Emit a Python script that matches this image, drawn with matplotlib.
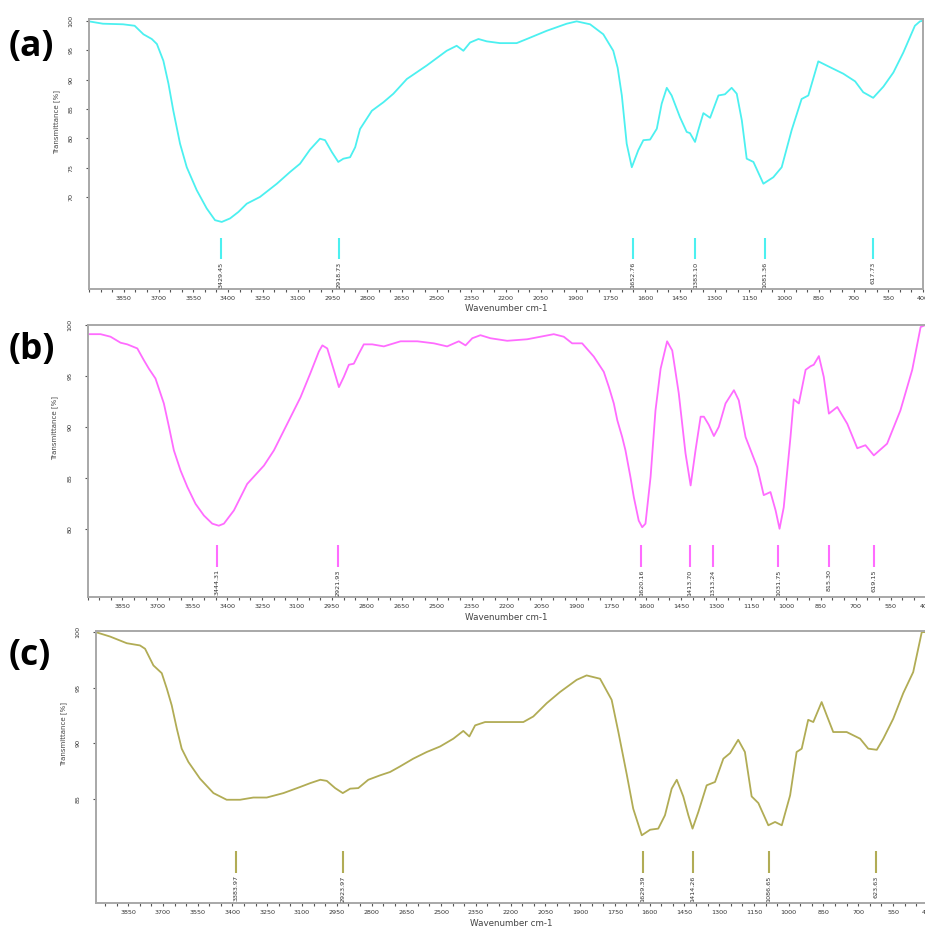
# FT-IR spectra (a), (b), (c) - transmittance vs wavenumber
import matplotlib
matplotlib.use('Agg')
import numpy as np
import matplotlib.pyplot as plt
from matplotlib.ticker import FixedLocator, MultipleLocator

# ---- data ----
wn_a = [4000, 3940, 3853, 3803, 3765, 3729, 3707, 3679, 3657, 3636, 3607, 3578, 3535, 3492, 3456,
        3427, 3391, 3355, 3319, 3262, 3189, 3132, 3089, 3046, 3003, 2981, 2952, 2924, 2902, 2873,
        2851, 2830, 2779, 2729, 2686, 2628, 2542, 2456, 2413, 2384, 2355, 2319, 2283, 2226, 2154,
        2110, 2024, 1938, 1895, 1837, 1780, 1737, 1718, 1700, 1679, 1657, 1629, 1607, 1578, 1549,
        1528, 1506, 1485, 1449, 1420, 1406, 1384, 1370, 1348, 1319, 1283, 1255, 1226, 1204, 1182,
        1161, 1132, 1089, 1046, 1010, 967, 924, 895, 852, 801, 744, 693, 658, 615, 571, 528, 485,
        435, 413, 400]
tr_a = [99.9, 99.5, 99.4, 99.15, 97.7, 96.9, 96.05, 93.2, 89.3, 84.7, 79.1, 75.1, 71.2, 68.1, 66.1,
        65.8, 66.4, 67.5, 68.9, 70.05, 72.3, 74.3, 75.7, 78.1, 79.95, 79.7, 77.7, 76.0, 76.55, 76.8,
        78.5, 81.6, 84.7, 86.15, 87.6, 90.1, 92.4, 94.9, 95.75, 94.9, 96.3, 96.9, 96.5, 96.2, 96.2,
        96.9, 98.3, 99.5, 99.9, 99.4, 97.7, 94.9, 92.0, 87.3, 79.1, 75.1, 78.0, 79.7, 79.8, 81.65,
        85.9, 88.6, 87.3, 83.6, 81.1, 80.9, 79.4, 81.4, 84.3, 83.5, 87.3, 87.5, 88.6, 87.6, 83.05,
        76.55, 76.0, 72.3, 73.4, 75.1, 81.4, 86.7, 87.3, 93.1, 92.1, 91.0, 89.7, 87.85, 86.9, 88.8,
        91.2, 94.6, 99.15, 99.9, 100]
peaks_a = [3429.45, 2918.73, 1652.76, 1383.10, 1081.36, 617.73]

wn_b = [4000, 3944, 3901, 3858, 3829, 3786, 3758, 3736, 3708, 3672, 3650, 3629, 3600, 3571, 3536,
        3500, 3464, 3436, 3414, 3371, 3314, 3242, 3199, 3142, 3085, 3042, 3006, 2991, 2970, 2942,
        2920, 2899, 2877, 2856, 2834, 2813, 2777, 2727, 2655, 2583, 2512, 2455, 2405, 2376, 2347,
        2312, 2269, 2197, 2111, 2054, 1997, 1954, 1918, 1875, 1825, 1782, 1760, 1739, 1724, 1703,
        1689, 1667, 1653, 1632, 1617, 1603, 1581, 1560, 1538, 1510, 1488, 1460, 1431, 1409, 1388,
        1366, 1352, 1331, 1309, 1288, 1259, 1223, 1202, 1173, 1123, 1095, 1066, 1044, 1027, 1009,
        980, 966, 944, 915, 894, 880, 858, 837, 815, 779, 736, 693, 658, 622, 565, 508, 457, 421, 400]
tr_b = [99.1, 99.1, 98.85, 98.26, 98.1, 97.7, 96.55, 95.7, 94.75, 92.3, 90.0, 87.7, 85.7, 84.1, 82.45,
        81.3, 80.5, 80.3, 80.5, 81.8, 84.4, 86.2, 87.7, 90.3, 92.9, 95.3, 97.4, 98.0, 97.7, 95.6,
        93.9, 94.9, 96.1, 96.2, 97.2, 98.1, 98.1, 97.9, 98.4, 98.4, 98.2, 97.9, 98.4, 98.0, 98.7,
        99.0, 98.7, 98.45, 98.6, 98.85, 99.1, 98.85, 98.2, 98.2, 96.9, 95.4, 93.9, 92.3, 90.65, 89.0,
        87.7, 85.0, 83.1, 80.8, 80.15, 80.5, 85.1, 91.6, 95.7, 98.4, 97.5, 93.3, 87.4, 84.25, 87.7,
        91.0, 91.0, 90.2, 89.1, 90.0, 92.3, 93.6, 92.6, 89.0, 86.05, 83.3, 83.6, 81.8, 80.0, 82.1,
        89.0, 92.7, 92.3, 95.6, 95.95, 96.1, 96.95, 94.9, 91.3, 91.95, 90.3, 87.9, 88.2, 87.2, 88.35,
        91.6, 95.6, 99.8, 100]
peaks_b = [3444.31, 2921.93, 1620.16, 1413.70, 1313.24, 1031.75, 815.30, 619.15]

wn_c = [3990, 3928, 3856, 3799, 3777, 3741, 3705, 3683, 3662, 3640, 3619, 3590, 3540, 3482, 3425,
        3367, 3310, 3252, 3180, 3108, 3064, 3021, 2993, 2957, 2924, 2892, 2857, 2814, 2763, 2720,
        2677, 2620, 2562, 2504, 2447, 2404, 2378, 2353, 2310, 2246, 2145, 2102, 2044, 1987, 1915,
        1872, 1814, 1764, 1735, 1699, 1671, 1634, 1598, 1563, 1534, 1505, 1483, 1455, 1433, 1415,
        1390, 1354, 1318, 1282, 1253, 1218, 1189, 1160, 1131, 1088, 1059, 1030, 994, 966, 944,
        916, 894, 858, 836, 808, 750, 692, 657, 620, 592, 549, 506, 463, 426, 400]
tr_c = [100, 99.6, 99.0, 98.8, 98.5, 97.0, 96.3, 94.9, 93.4, 91.3, 89.5, 88.3, 86.8, 85.5, 84.9,
        84.9, 85.1, 85.1, 85.5, 86.05, 86.4, 86.7, 86.6, 85.95, 85.5, 85.9, 85.95, 86.7, 87.1, 87.4,
        87.9, 88.6, 89.2, 89.7, 90.4, 91.1, 90.6, 91.6, 91.9, 91.9, 91.9, 92.4, 93.6, 94.6, 95.7,
        96.1, 95.8, 93.9, 91.0, 87.2, 84.1, 81.7, 82.2, 82.3, 83.5, 85.9, 86.7, 85.2, 83.5, 82.3,
        83.8, 86.2, 86.5, 88.6, 89.1, 90.3, 89.2, 85.2, 84.6, 82.6, 82.9, 82.6, 85.3, 89.2, 89.5,
        92.1, 91.9, 93.7, 92.5, 91.0, 91.0, 90.4, 89.5, 89.4, 90.4, 92.2, 94.5, 96.4, 100, 100]
peaks_c = [3383.97, 2923.97, 1629.39, 1414.26, 1086.65, 623.63]

yticks_a = [70, 75, 80, 85, 90, 95, 100]
yticks_b = [80, 85, 90, 95, 100]
yticks_c = [85, 90, 95, 100]
xticks = list(range(3850, 399, -150))

W, H = 925, 926
fig = plt.figure(figsize=(W / 100, H / 100), dpi=100)

def px_axes(left, right, top, bottom):
    return fig.add_axes([left / W, 1 - bottom / H, (right - left) / W, (bottom - top) / H])

panels = [
    # (axes box px, xlim, ylim, wn, tr, peaks, yticks, color, letter, letter y)
    ((89, 923, 19, 289), (4000, 400), (54.4, 100.3), wn_a, tr_a, peaks_a, yticks_a, '#4cf0f0', '(a)', 47),
    ((87.5, 925.5, 325, 597), (4000, 400), (73.3, 100.0), wn_b, tr_b, peaks_b, yticks_b, '#ff6cff', '(b)', 350),
    ((95.7, 927.8, 631, 903), (3990, 400), (75.6, 100.1), wn_c, tr_c, peaks_c, yticks_c, '#b1ac55', '(c)', 656),
]

for box, xlim, ylim, wn, tr, peaks, yt, col, letter, ly in panels:
    ax = px_axes(*box)
    ax.plot(wn, tr, color=col, lw=1.3)
    ax.set_xlim(*xlim)
    ax.set_ylim(*ylim)

    # peak markers with rotated labels
    trans = ax.get_xaxis_transform()
    ax.vlines(peaks, 0.112, 0.19, transform=trans, color=col, lw=1.5)
    for p in peaks:
        ax.text(p, 0.102, f'{p:.2f}', transform=trans, rotation=90, ha='center', va='top',
                fontsize=4.6, color='#333333')

    ax.xaxis.set_major_locator(FixedLocator(xticks))
    ax.xaxis.set_minor_locator(MultipleLocator(50))
    ax.set_yticks(yt)
    ax.tick_params(axis='x', which='both', direction='out', length=2, width=0.8,
                   colors='#555555', labelsize=4.6, pad=3, labelcolor='#333333')
    ax.tick_params(axis='y', direction='out', length=2, width=0.8, colors='#555555',
                   labelsize=4.6, pad=9, labelcolor='#333333', labelrotation=90)
    for lab in ax.get_yticklabels():
        lab.set_va('center')

    for s in ax.spines.values():
        s.set_color('#a8a8a8')
        s.set_linewidth(1.4)

    ax.set_xlabel('Wavenumber cm-1', fontsize=6.3, color='#444444')
    ax.xaxis.set_label_coords(0.5, -0.057)
    ax.set_ylabel('Transmittance [%]', fontsize=5, color='#444444')
    ax.yaxis.set_label_coords(-0.035, 0.62)

    fig.text(9 / W, 1 - ly / H, letter, ha='left', va='center', fontsize=25.5,
             fontweight='bold', family=['Open Sans', 'DejaVu Sans'])

fig.savefig('out.png', dpi=100)
